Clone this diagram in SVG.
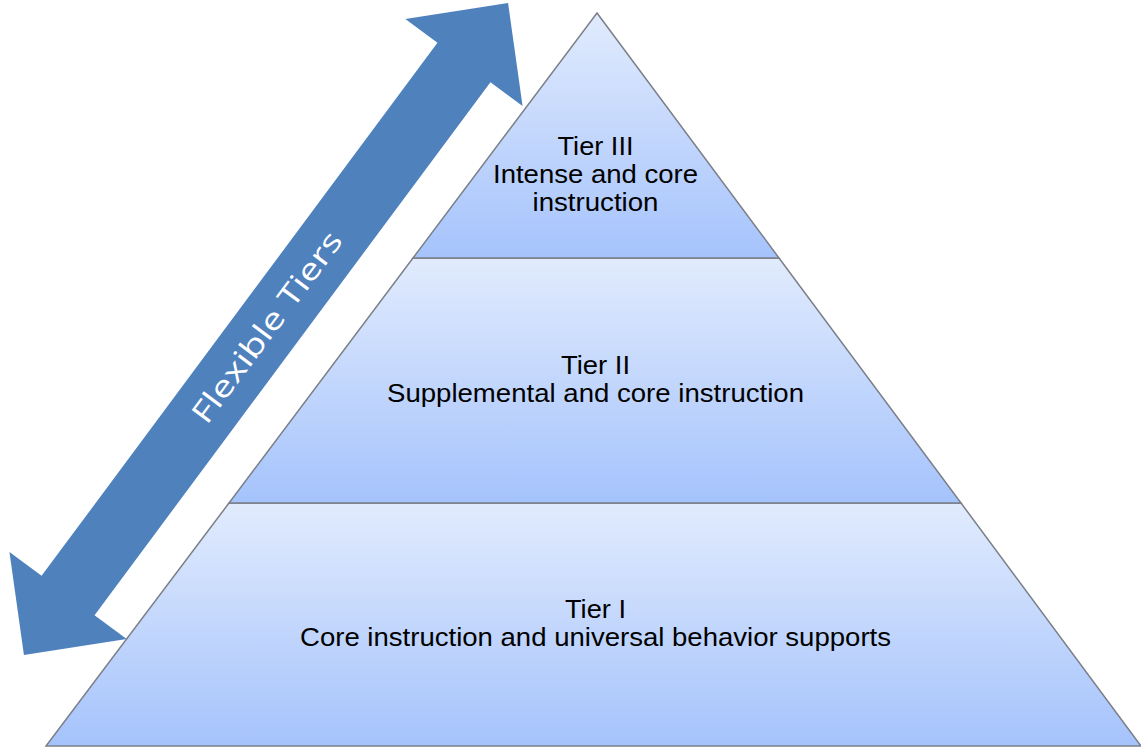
<svg xmlns="http://www.w3.org/2000/svg" width="1141" height="748" viewBox="0 0 1141 748">
  <defs>
    <linearGradient id="tierFill" x1="0" y1="0" x2="0" y2="1">
      <stop offset="0" stop-color="#e1ebfd"/>
      <stop offset="1" stop-color="#a5c3fc"/>
    </linearGradient>
    <style>
      .tier { fill: url(#tierFill); stroke: #7a7f88; stroke-width: 1.5; stroke-linejoin: miter; }
      .label { font-family: "Liberation Sans", Arial, sans-serif; font-size: 26px; fill: #000; text-anchor: middle; }
      .arrow { fill: #4f81bd; }
      .arrowText { font-family: "Open Sans", "Liberation Sans", sans-serif; font-size: 30px; fill: #fff; text-anchor: middle; }
    </style>
  </defs>
  <rect width="1141" height="748" fill="#ffffff"/>

  <g id="connectors">
    <g id="flexible-tiers-arrow" transform="translate(266,329) rotate(-53.4)">
      <path class="arrow" d="M406,0 L332,-73 L332,-33 L-332,-33 L-332,-73 L-406,0 L-332,73 L-332,33 L332,33 L332,73 Z"/>
      <text class="arrowText" x="2" y="10" textLength="230" lengthAdjust="spacingAndGlyphs">Flexible Tiers</text>
    </g>
  </g>

  <g id="tier1">
    <polygon class="tier" points="229,503 961,503 1141,746 46,746"/>
    <text class="label" x="595.5" y="618" textLength="61" lengthAdjust="spacingAndGlyphs">Tier I</text>
    <text class="label" x="595.5" y="646" textLength="591" lengthAdjust="spacingAndGlyphs">Core instruction and universal behavior supports</text>
  </g>

  <g id="tier2">
    <polygon class="tier" points="413,258 779,258 961,503 229,503"/>
    <text class="label" x="595.5" y="374" textLength="69" lengthAdjust="spacingAndGlyphs">Tier II</text>
    <text class="label" x="595.5" y="402" textLength="417" lengthAdjust="spacingAndGlyphs">Supplemental and core instruction</text>
  </g>

  <g id="tier3">
    <polygon class="tier" points="597,13 779,258 413,258"/>
    <text class="label" x="595.5" y="155" textLength="76" lengthAdjust="spacingAndGlyphs">Tier III</text>
    <text class="label" x="595.5" y="183" textLength="205" lengthAdjust="spacingAndGlyphs">Intense and core</text>
    <text class="label" x="595.5" y="211" textLength="126" lengthAdjust="spacingAndGlyphs">instruction</text>
  </g>
</svg>
